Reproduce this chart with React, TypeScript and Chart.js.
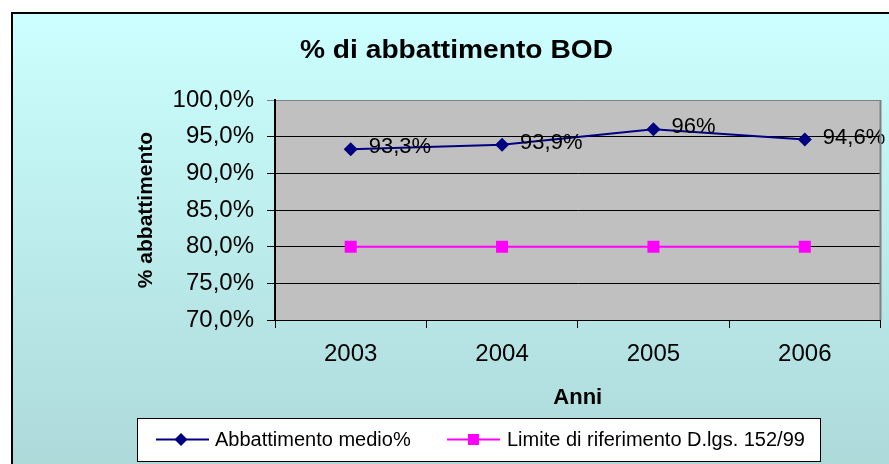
import React, { useEffect, useRef } from 'react';
import { Chart, registerables } from 'chart.js';

Chart.register(...registerables);

const years = ['2003', '2004', '2005', '2006'];
const abbattimento = [93.3, 93.9, 96, 94.6];
const limite = [80, 80, 80, 80];
const yTicks = [70, 75, 80, 85, 90, 95, 100];
const seriesNames = ['Abbattimento medio%', 'Limite di riferimento D.lgs. 152/99'];
const titleText = '% di abbattimento BOD';
const yTitle = '% abbattimento';
const xTitle = 'Anni';

const FONT = '"Liberation Sans", Arial, sans-serif';
const NAVY = '#000080';
const MAGENTA = '#FF00FF';

const fmtPct = (v: number) =>
  Number.isInteger(v) ? `${v}%` : `${v.toFixed(1).replace('.', ',')}%`;

function drawDiamond(ctx: CanvasRenderingContext2D, x: number, y: number, r: number, color: string) {
  ctx.beginPath();
  ctx.moveTo(x, y - r);
  ctx.lineTo(x + r, y);
  ctx.lineTo(x, y + r);
  ctx.lineTo(x - r, y);
  ctx.closePath();
  ctx.fillStyle = color;
  ctx.fill();
}

const decor = {
  id: 'decor',
  beforeDraw(chart: any) {
    const { ctx, width, height, chartArea: a } = chart;
    ctx.save();
    ctx.fillStyle = '#ffffff';
    ctx.fillRect(0, 0, width, height);
    const g = ctx.createLinearGradient(0, 13, 0, height);
    g.addColorStop(0, '#CCFFFF');
    g.addColorStop(1, '#ADD9D9');
    ctx.fillStyle = g;
    ctx.fillRect(12, 13, width - 12, height - 13);
    ctx.strokeStyle = '#000';
    ctx.lineWidth = 2;
    ctx.beginPath();
    ctx.moveTo(12, height + 2);
    ctx.lineTo(12, 13);
    ctx.lineTo(width + 2, 13);
    ctx.stroke();
    ctx.fillStyle = '#C0C0C0';
    ctx.fillRect(a.left, a.top, a.right - a.left, a.bottom - a.top);
    ctx.restore();
  },
  afterDatasetsDraw(chart: any) {
    const { ctx } = chart;
    const meta = chart.getDatasetMeta(0);
    ctx.save();
    ctx.fillStyle = '#000';
    ctx.font = `22px ${FONT}`;
    ctx.textAlign = 'left';
    ctx.textBaseline = 'middle';
    meta.data.forEach((pt: any, i: number) => {
      ctx.fillText(fmtPct(abbattimento[i]), pt.x + 18, pt.y - 2);
    });
    ctx.restore();
  },
  afterDraw(chart: any) {
    const { ctx, chartArea: a } = chart;
    ctx.save();
    // right border of plot
    ctx.strokeStyle = '#808080';
    ctx.lineWidth = 2;
    ctx.beginPath();
    ctx.moveTo(a.right, a.top);
    ctx.lineTo(a.right, a.bottom);
    ctx.stroke();

    // title
    ctx.fillStyle = '#000';
    ctx.font = `bold 26px ${FONT}`;
    ctx.textAlign = 'center';
    ctx.textBaseline = 'alphabetic';
    const tw = ctx.measureText(titleText).width;
    ctx.save();
    ctx.translate(456.5, 58);
    ctx.scale(313 / tw, 1);
    ctx.fillText(titleText, 0, 0);
    ctx.restore();

    // y title
    ctx.save();
    ctx.translate(146, (a.top + a.bottom) / 2);
    ctx.rotate(-Math.PI / 2);
    ctx.font = `bold 21px ${FONT}`;
    ctx.textAlign = 'center';
    ctx.textBaseline = 'middle';
    ctx.fillText(yTitle, 0, 0);
    ctx.restore();

    // x title
    ctx.font = `bold 22px ${FONT}`;
    ctx.textAlign = 'center';
    ctx.textBaseline = 'alphabetic';
    ctx.fillText(xTitle, (a.left + a.right) / 2, 404);

    // legend
    ctx.fillStyle = '#ffffff';
    ctx.fillRect(137, 418, 684, 44);
    ctx.strokeStyle = '#000';
    ctx.lineWidth = 1;
    ctx.strokeRect(137.5, 418.5, 683, 43);
    const ly = 439.5;
    ctx.lineWidth = 2;
    ctx.strokeStyle = NAVY;
    ctx.beginPath();
    ctx.moveTo(156, ly);
    ctx.lineTo(209, ly);
    ctx.stroke();
    drawDiamond(ctx, 181, ly, 6.5, NAVY);
    ctx.strokeStyle = MAGENTA;
    ctx.beginPath();
    ctx.moveTo(447, ly);
    ctx.lineTo(500, ly);
    ctx.stroke();
    ctx.fillStyle = MAGENTA;
    ctx.fillRect(468, ly - 5.5, 11, 11);
    ctx.fillStyle = '#000';
    ctx.font = `20px ${FONT}`;
    ctx.textAlign = 'left';
    ctx.textBaseline = 'alphabetic';
    ctx.fillText(seriesNames[0], 215, 446);
    ctx.fillText(seriesNames[1], 507, 446);
    ctx.restore();
  },
};

export default function App() {
  const ref = useRef<HTMLCanvasElement | null>(null);
  useEffect(() => {
    document.body.style.margin = '0';
    if (!ref.current) return;
    const chart = new Chart(ref.current, {
      type: 'line',
      data: {
        labels: years,
        datasets: [
          {
            label: seriesNames[0],
            data: abbattimento,
            borderColor: NAVY,
            backgroundColor: NAVY,
            borderWidth: 2,
            pointStyle: 'rectRot',
            pointRadius: 7,
            pointBorderWidth: 0,
            tension: 0,
          },
          {
            label: seriesNames[1],
            data: limite,
            borderColor: MAGENTA,
            backgroundColor: MAGENTA,
            borderWidth: 2,
            pointStyle: 'rect',
            pointRadius: 8.5,
            pointBorderWidth: 0,
            tension: 0,
          },
        ],
      },
      options: {
        responsive: false,
        animation: false,
        events: [],
        layout: { padding: { top: 100, left: 0, right: 6, bottom: 0 } },
        plugins: {
          legend: { display: false },
          title: { display: false },
          tooltip: { enabled: false },
        },
        scales: {
          x: {
            offset: true,
            grid: {
              offset: true,
              drawOnChartArea: false,
              drawTicks: true,
              tickLength: 8,
              color: '#000',
              lineWidth: 1,
            },
            border: { display: true, color: '#000', width: 1 },
            ticks: {
              color: '#000',
              font: { family: FONT, size: 24 },
              padding: 12,
              maxRotation: 0,
            },
            afterFit: (s: any) => {
              s.height = 144;
            },
          },
          y: {
            min: yTicks[0],
            max: yTicks[yTicks.length - 1],
            grid: {
              color: (c: any) => (c.tick && c.tick.value === yTicks[yTicks.length - 1] ? '#808080' : '#000'),
              lineWidth: 1,
              tickLength: 8,
              drawTicks: true,
            },
            border: { display: true, color: '#000', width: 2 },
            ticks: {
              stepSize: yTicks[1] - yTicks[0],
              color: '#000',
              font: { family: FONT, size: 24 },
              padding: 13,
              callback: (v: any) => `${Number(v).toFixed(1).replace('.', ',')}%`,
            },
            afterFit: (s: any) => {
              s.width = 275;
            },
          },
        },
      },
      plugins: [decor],
    });
    return () => chart.destroy();
  }, []);
  return (
    <div style={{ width: 889, height: 464 }}>
      <canvas ref={ref} width={889} height={464} style={{ width: 889, height: 464, display: 'block' }} />
    </div>
  );
}
